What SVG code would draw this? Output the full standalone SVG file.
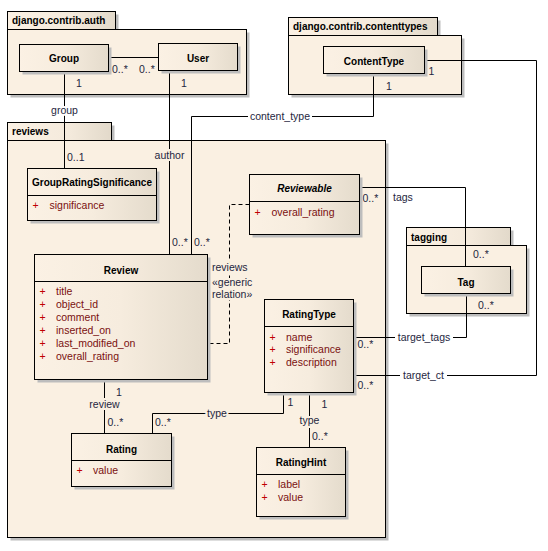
<svg xmlns="http://www.w3.org/2000/svg" width="548" height="551" viewBox="0 0 548 551">
<defs>
<linearGradient id="cg" x1="0" y1="0" x2="1" y2="0">
<stop offset="0" stop-color="#FBF1E4"/>
<stop offset="0.5" stop-color="#F6ECDE"/>
<stop offset="1" stop-color="#E4DBCC"/>
</linearGradient>
<linearGradient id="tg" x1="0" y1="0" x2="1" y2="0">
<stop offset="0" stop-color="#FBF1E4"/>
<stop offset="0.6" stop-color="#F4EADC"/>
<stop offset="1" stop-color="#E2D9CA"/>
</linearGradient>
</defs>
<style>
text{font-family:"Liberation Sans",Arial,sans-serif;font-size:10.5px}
.pkb{fill:#FAF0E2;stroke:#000;stroke-width:1}
.tab{fill:url(#tg);stroke:#000;stroke-width:1}
.sh{fill:#BDBDBD}
.cls{fill:url(#cg);stroke:#000;stroke-width:1}
.dv{stroke:#000;stroke-width:1}
.pt{font-weight:bold;font-size:10px;fill:#000}
.ct{font-weight:bold;font-size:10px;fill:#000;text-anchor:middle}
.it{font-style:italic}
.pl{fill:#C00000}
.at{fill:#7A1010}
.ln{fill:none;stroke:#000;stroke-width:1}
.dash{stroke-dasharray:4,3}
.lb{fill:#1E2640}
.mid{text-anchor:middle}
.bgw{fill:#FFFFFF}
.hc{stroke:#FAF0E2;stroke-width:4;paint-order:stroke}
.hw{stroke:#FFFFFF;stroke-width:4;paint-order:stroke}
</style>

<g id="pkg-auth">
<rect class="sh" x="10.5" y="14.5" width="108" height="18"/>
<rect class="sh" x="10.5" y="32.5" width="239" height="65"/>
<rect class="pkb" x="7.5" y="29.5" width="239" height="65"/>
<rect class="tab" x="7.5" y="11.5" width="108" height="18"/>
<text class="pt" x="12" y="24">django.contrib.auth</text>
</g>
<g id="pkg-contenttypes">
<rect class="sh" x="291.5" y="20.5" width="149" height="18"/>
<rect class="sh" x="291.5" y="38.5" width="173" height="59"/>
<rect class="pkb" x="288.5" y="35.5" width="173" height="59"/>
<rect class="tab" x="288.5" y="17.5" width="149" height="18"/>
<text class="pt" x="293" y="30">django.contrib.contenttypes</text>
</g>
<g id="pkg-reviews">
<rect class="sh" x="10.5" y="125.5" width="104" height="18"/>
<rect class="sh" x="10.5" y="143.5" width="378" height="397"/>
<rect class="pkb" x="7.5" y="140.5" width="378" height="397"/>
<rect class="tab" x="7.5" y="122.5" width="104" height="18"/>
<text class="pt" x="12" y="135">reviews</text>
</g>
<g id="pkg-tagging">
<rect class="sh" x="409.5" y="230.5" width="104" height="18"/>
<rect class="sh" x="409.5" y="248.5" width="120" height="68"/>
<rect class="pkb" x="406.5" y="245.5" width="120" height="68"/>
<rect class="tab" x="406.5" y="227.5" width="104" height="18"/>
<text class="pt" x="411" y="240.5">tagging</text>
</g>

<g id="connectors">
<path class="ln" d="M108.5 57.5H158.5"/>
<path class="ln" d="M64.5 71.5V168.5"/>
<path class="ln" d="M169.5 70.5V254.5"/>
<path class="ln" d="M373.5 73.5V116.5H191.5V254.5"/>
<path class="ln" d="M424.5 60.5H536.5V375.5H353.5"/>
<path class="ln" d="M359.5 187.5H465.5V266.5"/>
<path class="ln" d="M466.5 293.5V337.5H353.5"/>
<path class="ln dash" d="M249.5 204.5H229.5V343.5H207.5"/>
<path class="ln" d="M104.5 379.5V433.5"/>
<path class="ln" d="M152.5 433.5V413.5H283.5V392.5"/>
<path class="ln" d="M309.5 392.5V447.5"/>

<rect class="bgw" x="248" y="111" width="64" height="11"/>
<rect class="bgw" x="400" y="370" width="47" height="11"/>
<rect class="bgw" x="395" y="332" width="58" height="11"/>

<text class="lb" x="112" y="72.5">0..*</text>
<text class="lb" x="139" y="72.5">0..*</text>
<text class="lb" x="76" y="87">1</text>
<text class="lb mid hw" x="64.5" y="113.5">group</text>
<text class="lb" x="67" y="160.5">0..1</text>
<text class="lb" x="181" y="86.5">1</text>
<text class="lb mid hc" x="169.5" y="159">author</text>
<text class="lb" x="172" y="246">0..*</text>
<text class="lb" x="386" y="89.5">1</text>
<text class="lb mid" x="280" y="120">content_type</text>
<text class="lb" x="194" y="246">0..*</text>
<text class="lb" x="428.5" y="75">1</text>
<text class="lb mid" x="423.5" y="378.5">target_ct</text>
<text class="lb" x="357.5" y="389">0..*</text>
<text class="lb" x="362.5" y="202">0..*</text>
<text class="lb" x="393" y="200.5">tags</text>
<text class="lb" x="473" y="258">0..*</text>
<text class="lb" x="478" y="309">0..*</text>
<text class="lb mid" x="424" y="341">target_tags</text>
<text class="lb" x="357.5" y="348">0..*</text>
<text class="lb hc" x="212" y="270.5">reviews</text>
<text class="lb hc" x="212" y="285.5">«generic</text>
<text class="lb hc" x="212" y="298">relation»</text>
<text class="lb" x="116" y="395.5">1</text>
<text class="lb mid hc" x="104.5" y="408">review</text>
<text class="lb" x="107.5" y="426">0..*</text>
<text class="lb" x="155" y="426">0..*</text>
<text class="lb mid hc" x="217" y="417">type</text>
<text class="lb" x="287.5" y="406">1</text>
<text class="lb" x="321.5" y="408">1</text>
<text class="lb mid hc" x="309.5" y="423.5">type</text>
<text class="lb" x="312" y="440">0..*</text>
</g>

<g id="Group">
<rect class="sh" x="22.5" y="47.5" width="89" height="27"/>
<rect class="cls" x="19.5" y="44.5" width="89" height="27"/>
<text class="ct" x="64" y="61.5">Group</text>
</g>
<g id="User">
<rect class="sh" x="161.5" y="46.5" width="79" height="27"/>
<rect class="cls" x="158.5" y="43.5" width="79" height="27"/>
<text class="ct" x="198" y="61.5">User</text>
</g>
<g id="ContentType">
<rect class="sh" x="326.5" y="49.5" width="101" height="27"/>
<rect class="cls" x="323.5" y="46.5" width="101" height="27"/>
<text class="ct" x="374" y="64.5">ContentType</text>
</g>
<g id="Tag">
<rect class="sh" x="424.5" y="269.5" width="89" height="27"/>
<rect class="cls" x="421.5" y="266.5" width="89" height="27"/>
<text class="ct" x="466" y="285.5">Tag</text>
</g>
<g id="GroupRatingSignificance">
<rect class="sh" x="30.5" y="171.5" width="129" height="52"/>
<rect class="cls" x="27.5" y="168.5" width="129" height="52"/>
<line class="dv" x1="27.5" y1="195.5" x2="156.5" y2="195.5"/>
<text class="ct" x="92" y="185.5">GroupRatingSignificance</text>
<text class="pl" x="32.5" y="209">+</text>
<text class="at" x="49.5" y="209">significance</text>
</g>
<g id="Reviewable">
<rect class="sh" x="252.5" y="177.5" width="110" height="60"/>
<rect class="cls" x="249.5" y="174.5" width="110" height="60"/>
<line class="dv" x1="249.5" y1="201.5" x2="359.5" y2="201.5"/>
<text class="ct it" x="304.5" y="192">Reviewable</text>
<text class="pl" x="254.5" y="215.5">+</text>
<text class="at" x="271.5" y="215.5">overall_rating</text>
</g>
<g id="Review">
<rect class="sh" x="37.5" y="257.5" width="173" height="125"/>
<rect class="cls" x="34.5" y="254.5" width="173" height="125"/>
<line class="dv" x1="34.5" y1="281.5" x2="207.5" y2="281.5"/>
<text class="ct" x="121" y="273.5">Review</text>
<text class="pl" x="39.5" y="295">+</text><text class="at" x="56" y="295">title</text>
<text class="pl" x="39.5" y="308">+</text><text class="at" x="56" y="308">object_id</text>
<text class="pl" x="39.5" y="321">+</text><text class="at" x="56" y="321">comment</text>
<text class="pl" x="39.5" y="334">+</text><text class="at" x="56" y="334">inserted_on</text>
<text class="pl" x="39.5" y="347">+</text><text class="at" x="56" y="347">last_modified_on</text>
<text class="pl" x="39.5" y="360">+</text><text class="at" x="56" y="360">overall_rating</text>
</g>
<g id="RatingType">
<rect class="sh" x="267.5" y="302.5" width="89" height="93"/>
<rect class="cls" x="264.5" y="299.5" width="89" height="93"/>
<line class="dv" x1="264.5" y1="326.5" x2="353.5" y2="326.5"/>
<text class="ct" x="309" y="318">RatingType</text>
<text class="pl" x="269.5" y="340.5">+</text><text class="at" x="286" y="340.5">name</text>
<text class="pl" x="269.5" y="353.2">+</text><text class="at" x="286" y="353.2">significance</text>
<text class="pl" x="269.5" y="366">+</text><text class="at" x="286" y="366">description</text>
</g>
<g id="Rating">
<rect class="sh" x="74.5" y="436.5" width="100" height="53"/>
<rect class="cls" x="71.5" y="433.5" width="100" height="53"/>
<line class="dv" x1="71.5" y1="460.5" x2="171.5" y2="460.5"/>
<text class="ct" x="121.5" y="452.5">Rating</text>
<text class="pl" x="76.5" y="474">+</text><text class="at" x="93" y="474">value</text>
</g>
<g id="RatingHint">
<rect class="sh" x="259.5" y="450.5" width="89" height="69"/>
<rect class="cls" x="256.5" y="447.5" width="89" height="69"/>
<line class="dv" x1="256.5" y1="474.5" x2="345.5" y2="474.5"/>
<text class="ct" x="301" y="466">RatingHint</text>
<text class="pl" x="261.5" y="488.2">+</text><text class="at" x="278" y="488.2">label</text>
<text class="pl" x="261.5" y="501.2">+</text><text class="at" x="278" y="501.2">value</text>
</g>
</svg>
